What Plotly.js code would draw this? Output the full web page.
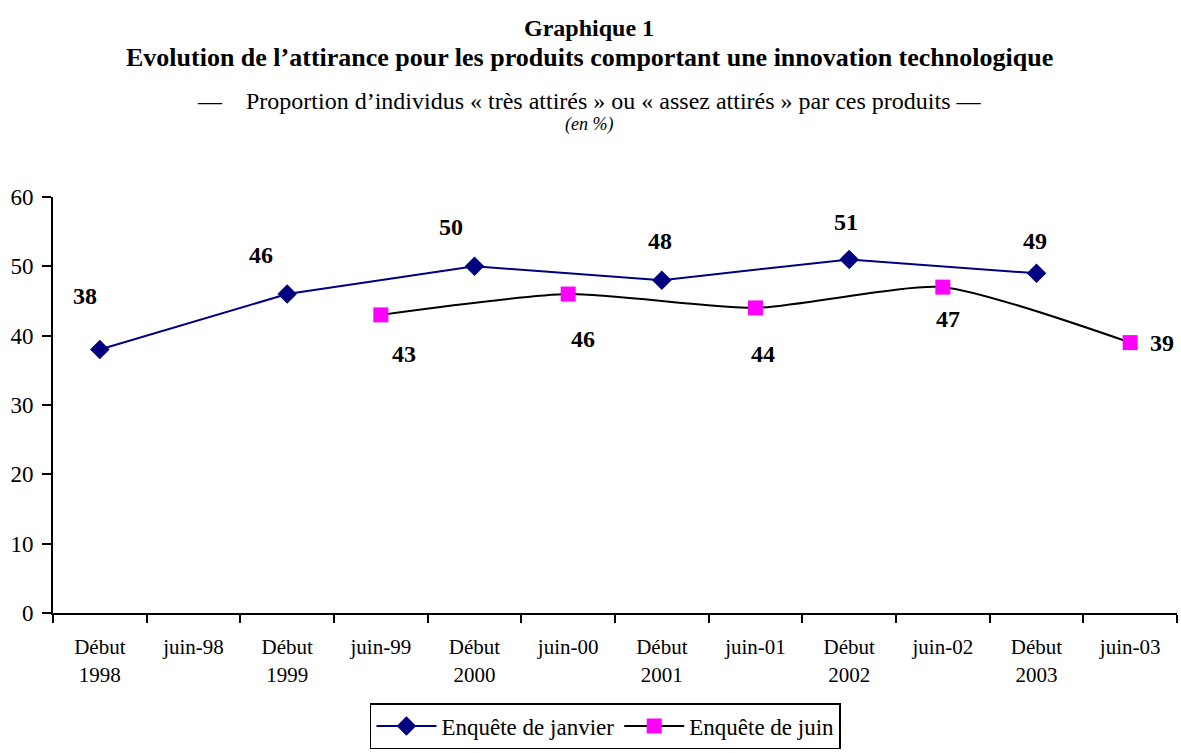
<!DOCTYPE html>
<html><head><meta charset="utf-8">
<script src="https://cdn.plot.ly/plotly-3.0.1.min.js"></script>
<style>html,body{margin:0;padding:0;background:#fff}#chart{width:1181px;height:753px}</style>
</head><body><div id="chart"></div>
<script>
const categories = ["Début<br>1998","juin-98","Début<br>1999","juin-99","Début<br>2000","juin-00","Début<br>2001","juin-01","Début<br>2002","juin-02","Début<br>2003","juin-03"];
const janvierCats = ["Début<br>1998","Début<br>1999","Début<br>2000","Début<br>2001","Début<br>2002","Début<br>2003"];
const janvierValues = [38,46,50,48,51,49];
const juinCats = ["juin-99","juin-00","juin-01","juin-02","juin-03"];
const juinValues = [43,46,44,47,39];
const yTicks = [0,10,20,30,40,50,60];

const janShift = [[-15,54],[-26,39],[-24,39],[-2,39],[-3,37],[-2,32]];
const juinShift = [[23,-39],[15,-45],[7,-46],[5,-32],[32,0]];

const F = "'Liberation Serif','Times New Roman',serif";
const annotations = [];
janvierCats.forEach((c,i)=>annotations.push({x:c,y:janvierValues[i],xref:'x',yref:'y',text:'<b>'+janvierValues[i]+'</b>',showarrow:false,xshift:janShift[i][0],yshift:janShift[i][1],font:{family:F,size:24,color:'#000'}}));
juinCats.forEach((c,i)=>annotations.push({x:c,y:juinValues[i],xref:'x',yref:'y',text:'<b>'+juinValues[i]+'</b>',showarrow:false,xshift:juinShift[i][0],yshift:juinShift[i][1],font:{family:F,size:24,color:'#000'}}));
function py(p){return (613-p)/416;}
function T(y,text,size){annotations.push({xref:'paper',yref:'paper',x:0.477,y:py(y),xanchor:'center',yanchor:'middle',text:text,showarrow:false,borderpad:0,font:{family:F,size:size,color:'#000'}});}
T(28,'<b>Graphique 1</b>',24);
T(57,'<b>Evolution de l’attirance pour les produits comportant une innovation technologique</b>',26);
T(101,'—    Proportion d’individus « très attirés » ou « assez attirés » par ces produits —',24);
T(125,'<i>(en %)</i>',18);

const data = [
 {x:janvierCats,y:janvierValues,type:'scatter',mode:'lines+markers',name:'Enquête de janvier',
  line:{color:'#000080',width:2},marker:{symbol:'diamond',size:15,color:'#000080'}},
 {x:juinCats,y:juinValues,type:'scatter',mode:'lines+markers',name:'Enquête de juin',
  line:{color:'#000',width:2,shape:'spline',smoothing:0.6},marker:{symbol:'square',size:15,color:'#ff00ff'}}
];
const layout = {
 width:1181,height:753,margin:{l:53,r:4,t:197,b:140},
 paper_bgcolor:'#fff',plot_bgcolor:'#fff',
 font:{family:F,color:'#000'},
 showlegend:true,
 legend:{orientation:'h',x:0.282,xanchor:'left',y:py(749),yanchor:'bottom',bordercolor:'#000',borderwidth:1.5,font:{family:F,size:23,color:'#000'},itemwidth:60,tracegroupgap:0},
 xaxis:{type:'category',categoryorder:'array',categoryarray:categories,range:[-0.5,11.5],
  showline:true,linecolor:'#000',linewidth:2,showgrid:false,zeroline:false,
  ticks:'outside',tickson:'boundaries',ticklen:8,tickwidth:2,tickcolor:'#000',ticklabelstandoff:14,
  tickfont:{family:F,size:21,color:'#000'},fixedrange:true},
 yaxis:{range:[0,60],tickvals:yTicks,showline:true,linecolor:'#000',linewidth:2,showgrid:false,zeroline:false,
  ticks:'outside',ticklen:9,tickwidth:2,tickcolor:'#000',ticklabelstandoff:4,tickfont:{family:F,size:23,color:'#000'}},
 annotations:annotations
};
Plotly.newPlot('chart',data,layout,{displayModeBar:false,staticPlot:true});
</script></body></html>
